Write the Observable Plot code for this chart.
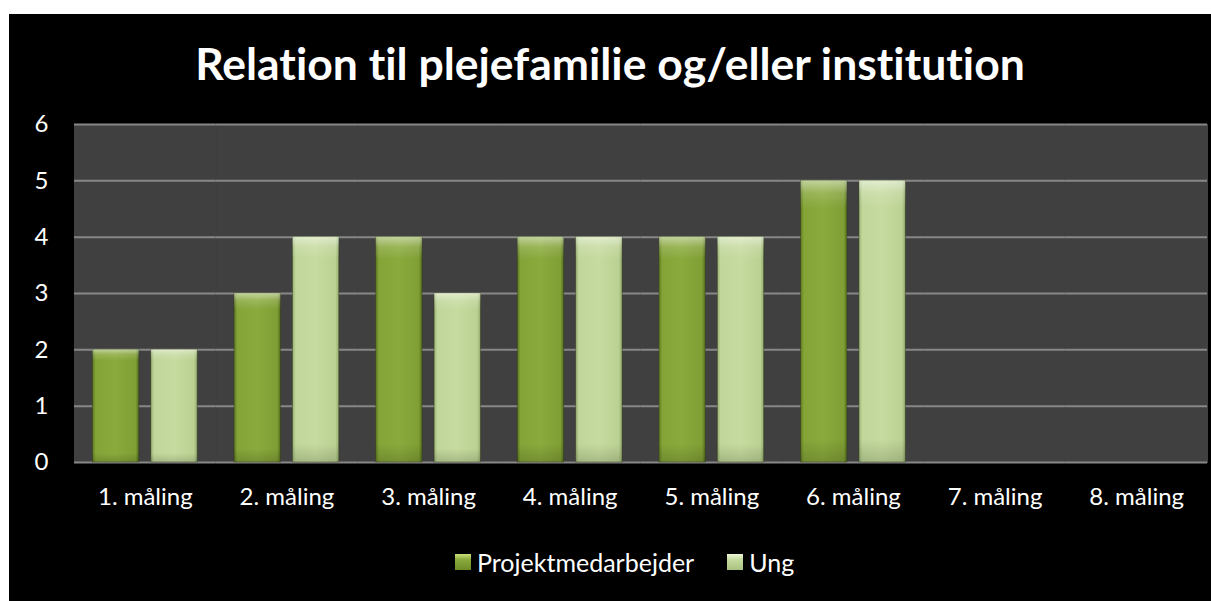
<!DOCTYPE html>
<html>
<head>
<meta charset="utf-8">
<script src="https://cdn.jsdelivr.net/npm/d3@7"></script>
<script src="https://cdn.jsdelivr.net/npm/@observablehq/plot@0.6"></script>
<style>
  html, body { margin: 0; padding: 0; background: #ffffff; }
  * { font-variant-ligatures: none; font-feature-settings: "liga" 0, "clig" 0; }
  #box { position: absolute; left: 9px; top: 14px; width: 1202px; height: 587px; background: #000; overflow: hidden; font-family: Lato, "Open Sans", sans-serif; color: #fff; }
  #title { position: absolute; left: 0; width: 1202px; top: 22px; text-align: center; font-weight: bold; font-size: 44.5px; line-height: 54px; }
  #chart { position: absolute; left: 0; top: 90px; }
  #legend { position: absolute; top: 533px; left: 446px; height: 30px; display: flex; align-items: center; font-size: 25px; }
  .item { display: flex; align-items: center; }
  .sw { width: 16px; height: 16px; margin-right: 6px; }
</style>
</head>
<body>
<svg width="0" height="0" style="position:absolute">
  <defs>
    <linearGradient id="gDark" x1="0" y1="0" x2="1" y2="0">
      <stop offset="0" stop-color="#5f7a20"/>
      <stop offset="0.07" stop-color="#84a438"/>
      <stop offset="0.5" stop-color="#8aaa3d"/>
      <stop offset="0.93" stop-color="#7f9e34"/>
      <stop offset="1" stop-color="#55701c"/>
    </linearGradient>
    <linearGradient id="gLight" x1="0" y1="0" x2="1" y2="0">
      <stop offset="0" stop-color="#9ab272"/>
      <stop offset="0.07" stop-color="#c0d69a"/>
      <stop offset="0.5" stop-color="#c6db9f"/>
      <stop offset="0.93" stop-color="#bbd193"/>
      <stop offset="1" stop-color="#92aa6c"/>
    </linearGradient>
    <linearGradient id="gTop" x1="0" y1="0" x2="0" y2="1">
      <stop offset="0" stop-color="#ffffff" stop-opacity="0.5"/>
      <stop offset="0.045" stop-color="#ffffff" stop-opacity="0.15"/>
      <stop offset="0.1" stop-color="#ffffff" stop-opacity="0"/>
      <stop offset="0.92" stop-color="#000000" stop-opacity="0"/>
      <stop offset="1" stop-color="#000000" stop-opacity="0.15"/>
    </linearGradient>
  </defs>
</svg>
<div id="box">
  <div id="title">Relation til plejefamilie og/eller institution</div>
  <div id="chart"></div>
  <div id="legend"></div>
</div>
<script>
const categories = ["1. måling", "2. måling", "3. måling", "4. måling", "5. måling", "6. måling", "7. måling", "8. måling"];
const seriesNames = ["Projektmedarbejder", "Ung"];
const projektmedarbejder = [2, 3, 4, 4, 4, 5, null, null];
const ung = [2, 4, 3, 4, 4, 5, null, null];
const yTicks = [0, 1, 2, 3, 4, 5, 6];
const seriesFills = ["url(#gDark)", "url(#gLight)"];
const legendSwatches = [
  "linear-gradient(to bottom, #c9e07a 0%, #8aaa3d 35%, #6f8c28 100%)",
  "linear-gradient(to bottom, #eef6d8 0%, #c6db9f 35%, #a8c280 100%)"
];

// all categories kept in the facet data (null values draw no bar) so empty facets still render
const table = [];
categories.forEach((c, i) => {
  table.push({cat: c, series: seriesNames[0], value: projektmedarbejder[i]});
  table.push({cat: c, series: seriesNames[1], value: ung[i]});
});

const chart = Plot.plot({
  width: 1202,
  height: 420,
  marginTop: 20,
  marginBottom: 62,
  marginLeft: 65,
  marginRight: 4,
  style: {background: "transparent", color: "#ffffff", fontFamily: "Lato, 'Open Sans', sans-serif", fontSize: "24px"},
  facet: {data: table, x: "cat"},
  fx: {domain: categories, padding: 0, round: false, label: null, tickSize: 0, tickPadding: 25},
  x: {domain: seriesNames, paddingInner: 0.207, paddingOuter: 0.316, round: false, axis: null},
  y: {domain: [0, 6], ticks: yTicks, tickSize: 0, tickPadding: 26, label: null, tickFormat: d3.format("d")},
  color: {domain: seriesNames, range: seriesFills},
  marks: [
    Plot.frame({fill: "#404040", stroke: "#404040", strokeWidth: 1}),
    Plot.ruleY(yTicks, {stroke: "#878787", strokeWidth: 2}),
    Plot.barY(table, {x: "series", y: "value", fill: "series", stroke: "#2e3a12", strokeOpacity: 0.5, strokeWidth: 0.8}),
    Plot.barY(table, {x: "series", y: "value", fill: "url(#gTop)"})
  ]
});
document.getElementById("chart").appendChild(chart);

const legend = document.getElementById("legend");
seriesNames.forEach((name, i) => {
  const item = document.createElement("div");
  item.className = "item";
  if (i > 0) item.style.marginLeft = "33px";
  const sw = document.createElement("div");
  sw.className = "sw";
  sw.style.background = legendSwatches[i];
  const label = document.createElement("span");
  label.textContent = name;
  item.appendChild(sw);
  item.appendChild(label);
  legend.appendChild(item);
});
</script>
</body>
</html>
